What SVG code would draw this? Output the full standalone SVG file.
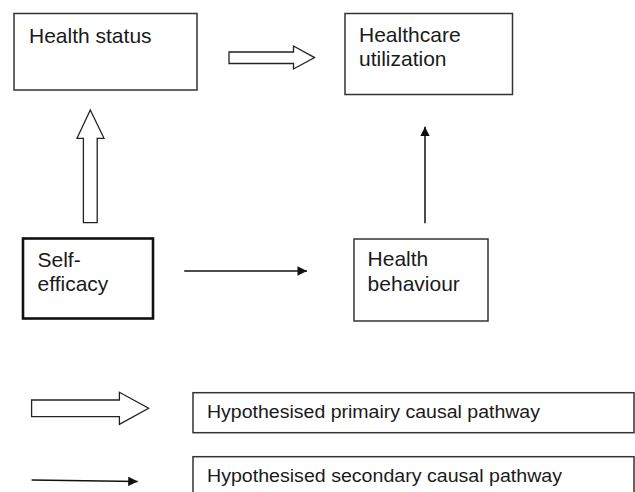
<svg xmlns="http://www.w3.org/2000/svg" width="635" height="492" viewBox="0 0 635 492">
<defs>
<style>
.box{fill:#fff;stroke:#333;stroke-width:1.5}
.bold{fill:#fff;stroke:#111;stroke-width:2.6}
.lbl{font-family:"Liberation Sans",Arial,sans-serif;font-size:21px;fill:#1a1a1a}
.leg{font-family:"Liberation Sans",Arial,sans-serif;font-size:17.5px;fill:#1a1a1a}
.hollow{fill:#fff;stroke:#222;stroke-width:1.3;stroke-linejoin:miter}
.thin{fill:none;stroke:#111;stroke-width:1.5}
</style>
<marker id="ah" viewBox="0 0 10 10" refX="10" refY="5" markerWidth="10" markerHeight="9.5" markerUnits="userSpaceOnUse" orient="auto">
<path d="M0,0 L10,5 L0,10 Z" fill="#111"/>
</marker>
</defs>
<rect width="635" height="492" fill="#fff"/>
<g id="health-status">
<rect class="box" x="14" y="13.5" width="183" height="76.5"/>
<text class="lbl" x="29" y="43">Health status</text>
</g>
<g id="healthcare-utilization">
<rect class="box" x="345" y="13.5" width="167.5" height="81"/>
<text class="lbl" x="359" y="41.7">Healthcare</text>
<text class="lbl" x="359" y="65.7">utilization</text>
</g>
<g id="self-efficacy">
<rect class="bold" x="23" y="238.5" width="130" height="80"/>
<text class="lbl" x="37.5" y="266.7">Self-</text>
<text class="lbl" x="37.5" y="291">efficacy</text>
</g>
<g id="health-behaviour">
<rect class="box" x="354" y="239" width="134" height="82"/>
<text class="lbl" x="367.6" y="266">Health</text>
<text class="lbl" x="367.6" y="290.7">behaviour</text>
</g>
<g id="connectors">
<path class="hollow" d="M229,52 L293.5,52 L293.5,46 L314.6,57.6 L293.5,69 L293.5,63.5 L229,63.5 Z"/>
<path class="hollow" d="M83.4,222.7 L83.4,138.3 L77,138.3 L90.3,110 L104,138.3 L97.2,138.3 L97.2,222.7 Z"/>
<line class="thin" x1="425" y1="223.3" x2="425" y2="126.7" marker-end="url(#ah)"/>
<line class="thin" x1="184.2" y1="271" x2="307" y2="271" marker-end="url(#ah)"/>
</g>
<g id="legend-primary">
<path class="hollow" d="M31.6,400 L119.4,400 L119.4,392.3 L148.6,408.3 L119.4,424.3 L119.4,416.7 L31.6,416.7 Z"/>
<rect class="box" x="193" y="392.7" width="441" height="40"/>
<text class="leg" x="207" y="417.7" textLength="333" lengthAdjust="spacingAndGlyphs">Hypothesised primairy causal pathway</text>
</g>
<g id="legend-secondary">
<line class="thin" x1="31.6" y1="480" x2="137.7" y2="481.5" marker-end="url(#ah)"/>
<rect class="box" x="193" y="456.7" width="441" height="45"/>
<text class="leg" x="207" y="482" textLength="355" lengthAdjust="spacingAndGlyphs">Hypothesised secondary causal pathway</text>
</g>
</svg>
